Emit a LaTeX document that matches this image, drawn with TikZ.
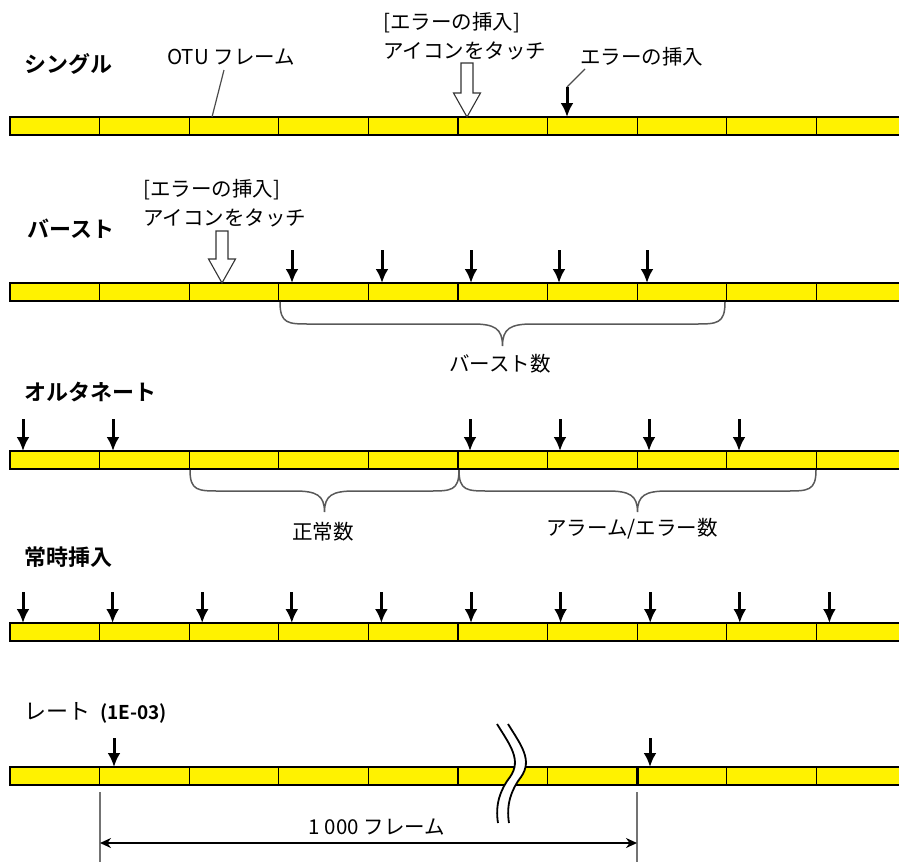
\documentclass[tikz,border=0pt]{standalone}
\usepackage{fontspec}
\setmainfont{Noto Sans CJK JP}[BoldFont={Noto Sans CJK JP Bold}]
\usetikzlibrary{arrows.meta}
\tikzset{
  barline/.style={draw=black, line width=1.6pt},
  divline/.style={draw=black, line width=1.3pt},
  errarrow/.style={draw=black, line width=3pt, -{Latex[length=14pt,width=13pt]}},
  hollow/.style={draw=black!80, line width=1.1pt, fill=white},
  lbl/.style={inner sep=0pt, font=\fontsize{20.5}{22}\selectfont},
  ttl/.style={inner sep=0pt, anchor=west, font=\fontsize{22}{24}\selectfont\bfseries},
  leader/.style={draw=black!70, line width=1.2pt},
  bracestyle/.style={draw=black!65, line width=1.5pt},
  dimline/.style={draw=black!55, line width=1.2pt},
}
\newcommand{\otubar}[1]{%
  \fill[yellow] (10,#1) rectangle (899,{#1+18});
  \draw[barline] (899,#1) -- (10,#1) -- (10,{#1+18}) -- (899,{#1+18});
  \foreach \i in {1,...,9} {\draw[divline] ({10+89.6*\i},#1) -- ({10+89.6*\i},{#1+18});}
}
\newcommand{\curlybr}[4]{% x1, x2, ytop, depth
  \draw[bracestyle] (#1,#3) .. controls (#1,{#3+#4*0.5}) and ({#1+8},{#3+#4*0.5}) .. ({#1+30},{#3+#4*0.5})
    -- ({(#1+#2)/2-30},{#3+#4*0.5}) .. controls ({(#1+#2)/2-8},{#3+#4*0.5}) and ({(#1+#2)/2},{#3+#4*0.6}) .. ({(#1+#2)/2},{#3+#4})
    .. controls ({(#1+#2)/2},{#3+#4*0.6}) and ({(#1+#2)/2+8},{#3+#4*0.5}) .. ({(#1+#2)/2+30},{#3+#4*0.5})
    -- ({#2-30},{#3+#4*0.5}) .. controls ({#2-8},{#3+#4*0.5}) and (#2,{#3+#4*0.5}) .. (#2,#3);
}
\newcommand{\hollowarrow}[3]{% x, ytop, ytip
  \draw[hollow] ({#1-6},#2) -- ({#1+6},#2) -- ({#1+6},{#3-24}) -- ({#1+13.5},{#3-24}) -- (#1,#3)
    -- ({#1-13.5},{#3-24}) -- ({#1-6},{#3-24}) -- cycle;
}
\begin{document}
\begin{tikzpicture}[x=1pt,y=-1pt]
\useasboundingbox (0,0) rectangle (899,862);

% ---------- Row 1: single
\node[ttl] (t1) at (24,64) {シングル};
\otubar{117}
\node[lbl, anchor=west] (otu) at (167,57) {OTU フレーム};
\coordinate (otuend) at (212,117);
\draw[leader] (224,70) -- (otuend);
\node[lbl, anchor=west] (ins1a) at (383,23) {[エラーの挿入]};
\node[lbl, anchor=west] (ins1b) at (383,51) {アイコンをタッチ};
\hollowarrow{467}{63}{117}
\node[lbl, anchor=west] (err1) at (580,57) {エラーの挿入};
\coordinate (e1s) at (567,87);
\coordinate (e1t) at (567,117);
\draw[leader] (585,69) -- (e1s);
\draw[errarrow] (e1s) -- (e1t);

% ---------- Row 2: burst
\node[ttl] (t2) at (27,229) {バースト};
\otubar{283}
\node[lbl, anchor=west] (ins2a) at (143,190) {[エラーの挿入]};
\node[lbl, anchor=west] (ins2b) at (143,218) {アイコンをタッチ};
\hollowarrow{222}{231}{283}
\foreach \x in {292,382,471,559,647} {\draw[errarrow] (\x,250) -- (\x,283);}
\curlybr{280}{725}{302}{44}
\node[lbl] (bn) at (500,364) {バースト数};

% ---------- Row 3: alternate
\node[ttl] (t3) at (24,392) {オルタネート};
\otubar{451}
\foreach \x in {23,113,470,560,649,739} {\draw[errarrow] (\x,419) -- (\x,451);}
\curlybr{190}{459}{470}{42}
\curlybr{459}{816}{470}{42}
\node[lbl] (nn) at (323,532) {正常数};
\node[lbl] (an) at (632,529) {アラーム/エラー数};

% ---------- Row 4: always
\node[ttl] (t4) at (24,557) {常時挿入};
\otubar{623}
\foreach \i in {0,...,9} {\draw[errarrow] ({23+89.6*\i},592) -- ({23+89.6*\i},623);}

% ---------- Row 5: rate
\node[ttl] (t5) at (24,713) {\mdseries レート\hspace{0.45em}\bfseries\fontsize{19}{21}\selectfont (1E-03)};
\otubar{767}
\draw[black, line width=3pt] (637.2,767) -- (637.2,785);
\draw[errarrow] (114,738) -- (114,767);
\draw[errarrow] (650,738) -- (650,767);
% break symbol
\fill[white] (497,724) .. controls (510,745) and (522,760) .. (510,777) .. controls (500,790) and (495,805) .. (498,823)
  -- (509,823) .. controls (506,805) and (511,790) .. (521,777) .. controls (533,760) and (521,745) .. (508,724) -- cycle;
\draw[black, line width=1.8pt] (497,724) .. controls (510,745) and (522,760) .. (510,777) .. controls (500,790) and (495,805) .. (498,823);
\draw[black, line width=1.8pt] (508,724) .. controls (521,745) and (533,760) .. (521,777) .. controls (511,790) and (506,805) .. (509,823);
% dimension
\coordinate (d1t) at (100,792);
\coordinate (d1b) at (100,862);
\coordinate (d2t) at (637,792);
\coordinate (d2b) at (637,862);
\draw[dimline] (d1t) -- (d1b);
\draw[dimline] (d2t) -- (d2b);
\coordinate (da) at (100,843);
\coordinate (db) at (637,843);
\draw[black, line width=2pt, {Stealth[length=11pt,width=10pt]}-{Stealth[length=11pt,width=10pt]}] (da) -- (db);
\node[lbl] (fr) at (377,827) {1 000 フレーム};
\end{tikzpicture}
\end{document}
